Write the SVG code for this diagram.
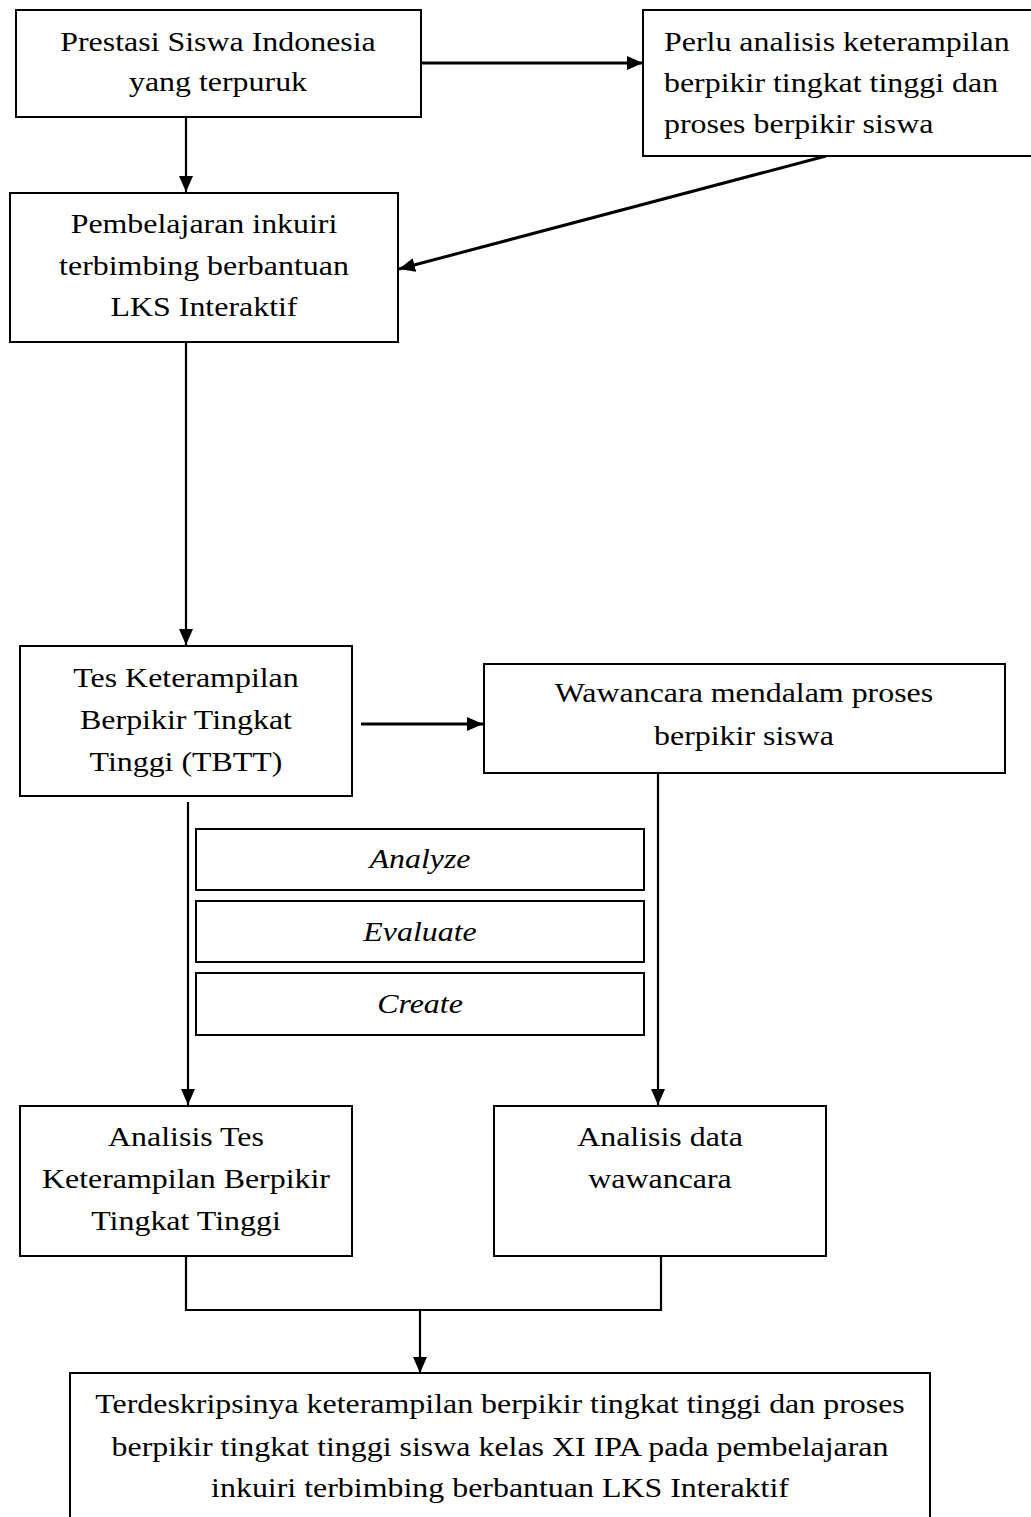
<svg xmlns="http://www.w3.org/2000/svg" width="1031" height="1517" viewBox="0 0 1031 1517">
<style>
.box{fill:#fff;stroke:#000;stroke-width:2}
.t{font-family:"Liberation Serif","Times New Roman",serif;font-size:28px;fill:#000;text-anchor:middle}
.l{text-anchor:start}
.i{font-style:italic}
.c{fill:none;stroke:#000;stroke-width:2.2}
.ct{fill:none;stroke:#000;stroke-width:3}
</style>
<defs>
<marker id="ah" markerUnits="userSpaceOnUse" markerWidth="16" markerHeight="14" refX="16" refY="7" orient="auto">
<path d="M0,0 L16,7 L0,14 Z" fill="#000"/>
</marker>
</defs>
<rect width="1031" height="1517" fill="#fff"/>
<g id="connectors">
<line class="ct" x1="421" y1="63" x2="643" y2="63" marker-end="url(#ah)"/>
<line class="c" x1="186" y1="117" x2="186" y2="192" marker-end="url(#ah)"/>
<line class="ct" x1="826" y1="156" x2="399" y2="269" marker-end="url(#ah)"/>
<line class="c" x1="186" y1="342" x2="186" y2="645" marker-end="url(#ah)"/>
<line class="ct" x1="361" y1="724" x2="483" y2="724" marker-end="url(#ah)"/>
<line class="c" x1="188" y1="802" x2="188" y2="1105" marker-end="url(#ah)"/>
<line class="c" x1="658" y1="773" x2="658" y2="1105" marker-end="url(#ah)"/>
<polyline class="c" points="186,1256 186,1310 661,1310 661,1256"/>
<line class="c" x1="420" y1="1310" x2="420" y2="1373" marker-end="url(#ah)"/>
</g>
<g id="n1">
<rect class="box" x="16" y="10" width="405" height="107"/>
<g transform="translate(218 0) scale(1.14 1)">
<text class="t" x="0" y="51">Prestasi Siswa Indonesia</text>
<text class="t" x="0" y="91">yang terpuruk</text>
</g>
</g>
<g id="n2">
<rect class="box" x="643" y="10" width="400" height="146"/>
<g transform="translate(664 0) scale(1.14 1)">
<text class="t l" x="0" y="51">Perlu analisis keterampilan</text>
<text class="t l" x="0" y="92">berpikir tingkat tinggi dan</text>
<text class="t l" x="0" y="133">proses berpikir siswa</text>
</g>
</g>
<g id="n3">
<rect class="box" x="10" y="193" width="388" height="149"/>
<g transform="translate(204 0) scale(1.14 1)">
<text class="t" x="0" y="233">Pembelajaran inkuiri</text>
<text class="t" x="0" y="275">terbimbing berbantuan</text>
<text class="t" x="0" y="316">LKS Interaktif</text>
</g>
</g>
<g id="n4">
<rect class="box" x="20" y="646" width="332" height="150"/>
<g transform="translate(186 0) scale(1.14 1)">
<text class="t" x="0" y="687">Tes Keterampilan</text>
<text class="t" x="0" y="729">Berpikir Tingkat</text>
<text class="t" x="0" y="771">Tinggi (TBTT)</text>
</g>
</g>
<g id="n5">
<rect class="box" x="484" y="664" width="521" height="109"/>
<g transform="translate(744 0) scale(1.14 1)">
<text class="t" x="0" y="702">Wawancara mendalam proses</text>
<text class="t" x="0" y="745">berpikir siswa</text>
</g>
</g>
<g id="n-analyze">
<rect class="box" x="196" y="829" width="448" height="61"/>
<g transform="translate(420 0) scale(1.14 1)"><text class="t i" x="0" y="868">Analyze</text></g>
</g>
<g id="n-evaluate">
<rect class="box" x="196" y="901" width="448" height="61"/>
<g transform="translate(420 0) scale(1.14 1)"><text class="t i" x="0" y="941">Evaluate</text></g>
</g>
<g id="n-create">
<rect class="box" x="196" y="973" width="448" height="62"/>
<g transform="translate(420 0) scale(1.14 1)"><text class="t i" x="0" y="1013">Create</text></g>
</g>
<g id="n6">
<rect class="box" x="20" y="1106" width="332" height="150"/>
<g transform="translate(186 0) scale(1.14 1)">
<text class="t" x="0" y="1146">Analisis Tes</text>
<text class="t" x="0" y="1188">Keterampilan Berpikir</text>
<text class="t" x="0" y="1230">Tingkat Tinggi</text>
</g>
</g>
<g id="n7">
<rect class="box" x="494" y="1106" width="332" height="150"/>
<g transform="translate(660 0) scale(1.14 1)">
<text class="t" x="0" y="1146">Analisis data</text>
<text class="t" x="0" y="1188">wawancara</text>
</g>
</g>
<g id="n8">
<rect class="box" x="70" y="1373" width="860" height="170"/>
<g transform="translate(500 0) scale(1.14 1)">
<text class="t" x="0" y="1413">Terdeskripsinya keterampilan berpikir tingkat tinggi dan proses</text>
<text class="t" x="0" y="1456">berpikir tingkat tinggi siswa kelas XI IPA pada pembelajaran</text>
<text class="t" x="0" y="1497">inkuiri terbimbing berbantuan LKS Interaktif</text>
</g>
</g>
</svg>
